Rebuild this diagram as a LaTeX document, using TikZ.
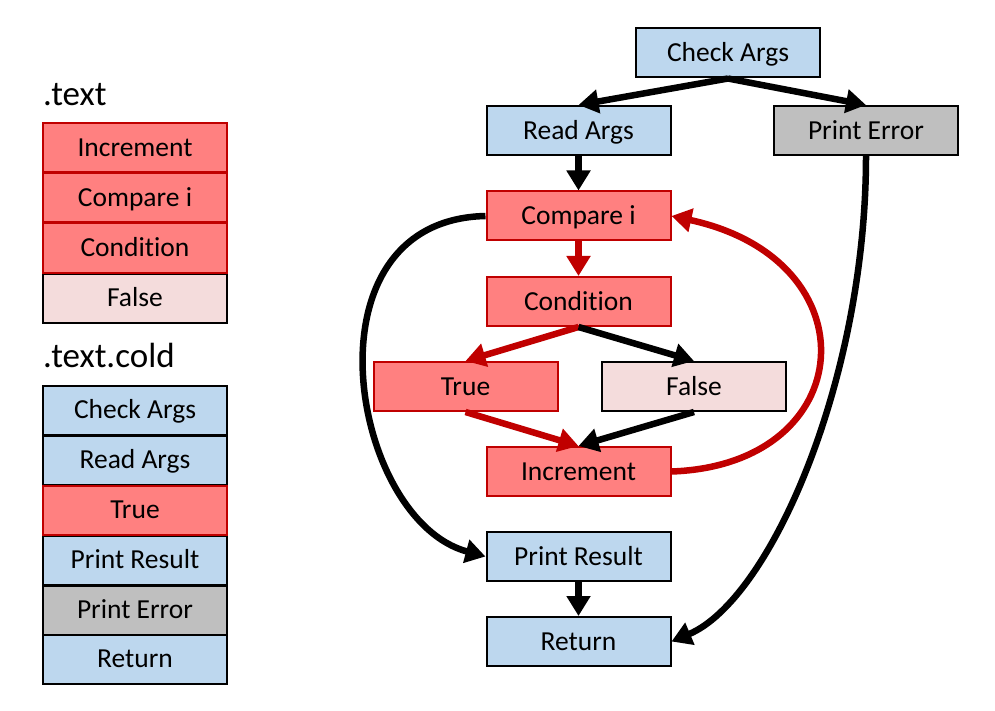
\documentclass[tikz,border=0pt]{standalone}
\usepackage{fontspec}
\setmainfont[Ligatures=NoCommon]{Carlito}
\usetikzlibrary{arrows.meta}
\definecolor{cblue}{HTML}{BDD7EE}
\definecolor{cred}{HTML}{FF8080}
\definecolor{cdred}{HTML}{C00000}
\definecolor{cpink}{HTML}{F4DCDC}
\definecolor{cgray}{HTML}{BFBFBF}
\begin{document}
\begin{tikzpicture}[x=1pt,y=-1pt,
  box/.style={draw=black,line width=2pt,minimum width=184pt,minimum height=49pt,inner sep=0pt,
    font=\fontsize{27.5}{30}\selectfont,text height=21pt,text depth=3.6pt},
  bluebox/.style={box,fill=cblue},
  redbox/.style={box,fill=cred,draw=cdred},
  pinkbox/.style={box,fill=cpink},
  graybox/.style={box,fill=cgray},
  arr/.style={line width=6.5pt,-{Triangle[length=20pt,width=23pt]}},
  blk/.style={arr,draw=black},
  rd/.style={arr,draw=cdred},
  heading/.style={font=\fontsize{35}{38}\selectfont,anchor=base west,inner sep=0pt}]
\useasboundingbox (0,0) rectangle (995,711);

% left column
\node[heading] (h1) at (43,106) {.text};
\node[pinkbox] (l4) at (135,298) {False};
\node[redbox] (l1) at (135,148) {Increment};
\node[redbox] (l2) at (135,198) {Compare i};
\node[redbox] (l3) at (135,248) {Condition};

\node[heading] (h2) at (43,367) {.text.cold};
\node[bluebox] (c1) at (135,410) {Check Args};
\node[bluebox] (c2) at (135,460) {Read Args};
\node[bluebox] (c4) at (135,560) {Print Result};
\node[graybox] (c5) at (135,610) {Print Error};
\node[bluebox] (c6) at (135,659) {Return};
\node[redbox] (c3) at (135,510) {True};

% flow chart
\node[bluebox] (chk) at (728,53) {Check Args};
\node[bluebox] (read) at (578.5,130.5) {Read Args};
\node[graybox] (perr) at (866,130.5) {Print Error};
\node[redbox] (cmp) at (578.5,216) {Compare i};
\node[redbox] (cond) at (578.5,301.5) {Condition};
\node[redbox] (tru) at (465.5,386.5) {True};
\node[pinkbox] (fls) at (694,386.5) {False};
\node[redbox] (inc) at (578.5,471.5) {Increment};
\node[bluebox] (pres) at (578.5,556.5) {Print Result};
\node[bluebox] (ret) at (578.5,641.5) {Return};

\draw[blk] (chk.south) -- (read.north);
\draw[blk] (chk.south) -- (perr.north);
\draw[blk] (read.south) -- (cmp.north);
\draw[rd] (cmp.south) -- (cond.north);
\draw[rd] (cond.south) -- (tru.north);
\draw[blk] (cond.south) -- (fls.north);
\draw[rd] (tru.south) -- (inc.north);
\draw[blk] (fls.south) -- (inc.north);
\draw[blk] (pres.south) -- (ret.north);
\draw[rd] (inc.east) .. controls (860,465) and (875,260) .. (cmp.east);
\draw[blk] (cmp.west) .. controls (300,220) and (350,520) .. (pres.west);
\draw[blk] (perr.south) .. controls (866,380) and (770,600) .. (ret.east);
\end{tikzpicture}
\end{document}
